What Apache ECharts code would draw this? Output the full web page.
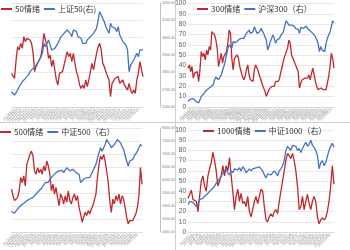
<!DOCTYPE html>
<html><head><meta charset="utf-8">
<script src="https://cdn.jsdelivr.net/npm/echarts@6/dist/echarts.min.js"></script>
<style>html,body{margin:0;padding:0;background:#fff}#c{width:350px;height:250px}</style>
</head><body><div id="c"></div>
<script>
// ---- data ----
const sent50 = [32.4,34,27.6,45.2,58,54.8,61.2,56.4,67.6,62.8,66,67.6,64.4,61.2,51.6,34,40.4,38.8,45.2,48.4,58,70.8,64.4,58,46.8,50,38.8,45.2,35.6,26,21.2,32.4,30.8,34,35.6,46.8,53.2,48.4,51.6,43.6,51.6,42,34,29.2,21.2,17.9,21.2,17.9,26,19.6,26,34,42,35.6,43.6,51.6,58,61.2,54.8,42,38.8,34,35.6,26,9.9,22.8,21.2,27.6,26,29.2,22.8,24.4,26,21.2,19.6,16.3,22.8,16.3,13.1,16.3,13.1,26,32.4,43.6,35.6,29.2];
const index50 = [2688,2679,2669,2669,2698,2717,2727,2746,2756,2765,2775,2785,2804,2794,2823,2813,2833,2842,2871,2881,2910,2967,2948,2967,2987,2977,2929,2919,2938,2948,2967,2987,3006,2996,3025,3015,3044,3035,3025,3006,3044,3054,3035,3006,3015,2996,2967,2977,2967,2987,2977,3006,3015,3025,3035,3054,3044,3150,3131,3121,3092,3063,3044,3025,3083,3063,3073,3054,3035,3063,3015,3006,2977,2967,2958,2929,2804,2842,2833,2871,2881,2910,2890,2929,2938,2929];
const sent300 = [37.5,40.7,34.3,39.1,27.9,32.7,31.1,34.3,24.7,35.9,53.5,48.7,51.9,45.5,55.1,50.3,58.3,55.1,72.8,71.2,69.6,64.7,56.7,39.1,45.5,51.9,42.3,48.7,50.3,53.5,61.5,74.4,71.2,47.1,35.9,47.1,45.5,50.3,47.1,39.1,34.3,29.5,26.3,29.5,35.9,40.7,31.1,26.3,26.3,24.7,35.9,40.7,39.1,34.3,29.5,26.3,21.5,19.9,15.1,10.3,11.9,16.7,18.3,19.9,21.5,19.9,24.7,23.1,24.7,27.9,34.3,39.1,45.5,47.1,53.5,56.7,64.7,61.5,50.3,48.7,43.9,40.7,37.5,34.3,18.3,23.1,26.3,24.7,27.9,29.5,27.9,31.1,26.3,27.9,37.5,35.9,24.7,19.9,16.7,15.1,18.3,16.7,16.7,18.3,16.7,23.1,29.5,39.1,51.9,47.1,37.5];
const index300 = [3109,3141,3154,3141,3160,3128,3109,3090,3077,3141,3205,3237,3256,3301,3333,3346,3365,3385,3410,3429,3526,3577,3577,3526,3558,3622,3705,3782,3878,4006,4135,4199,4167,4135,4263,4231,4244,4263,4295,4282,4327,4359,4327,4359,4423,4455,4487,4423,4391,4455,4551,4487,4423,4391,4455,4519,4487,4423,4359,4295,4103,4167,4263,4295,4391,4327,4231,4295,4263,4327,4391,4423,4455,4583,4667,4628,4583,4615,4583,4603,4564,4519,4538,4500,4423,4538,4551,4519,4551,4564,4519,4551,4474,4500,4423,4391,4359,4295,4231,4071,4167,4103,4115,4071,4231,4327,4391,4455,4551,4667,4628];
const sent500 = [41.3,34.9,30.2,28.6,33.3,39.7,52.4,47.6,54.0,44.4,65.1,63.5,74.6,77.8,73.0,58.7,55.6,61.9,57.1,60.3,55.6,63.5,58.7,68.3,63.5,55.6,39.7,46.0,36.5,42.9,33.3,25.4,36.5,33.3,27.0,34.9,28.6,39.7,30.2,27.0,33.3,36.5,30.2,34.9,23.8,17.5,9.5,11.1,19.0,15.9,20.6,17.5,22.2,25.4,27.0,36.5,52.4,65.1,73.0,69.8,74.6,68.3,58.7,47.6,30.2,19.0,31.7,27.0,34.9,30.2,36.5,27.0,34.9,31.7,23.8,14.3,7.9,11.1,12.7,11.1,14.3,17.5,23.8,34.9,61.9,46.0];
const index500 = [4800,4762,4724,4762,4889,4927,5016,5080,5105,5143,5207,5232,5270,5270,5334,5397,5461,5486,5588,5651,5715,5778,5905,5969,5905,6032,6096,6159,6223,6286,6248,6350,6286,6375,6286,6350,6477,6413,6350,6324,6413,6350,6286,6248,6223,5905,5969,6032,6070,6096,6159,6096,6223,6350,6477,6604,6667,7048,7239,7112,7175,7366,7556,7556,7366,7239,7302,7366,7429,7556,7620,7429,7302,7175,7112,6731,6540,6731,6667,6794,6921,6985,7112,7239,7366,7302];
const sent1000 = [33,34,41,32,33,30,20,35,50,55,45,40,55,62,68,78,70,60,45,50,55,65,55,65,60,73,55,40,22,35,42,30,38,28,30,25,35,20,15,22,30,35,28,35,42,40,25,12,10,15,18,15,20,22,18,30,40,50,60,70,77,75,72,77,70,60,45,22,25,35,22,30,37,28,22,30,35,30,15,8,12,14,12,14,20,30,45,65,47];
const index1000 = [5080,5200,5240,5160,5120,5000,5080,5280,5240,5320,5400,5440,5520,5600,5640,5720,5800,5920,6000,6080,6200,6320,6400,6480,6320,6240,6400,6320,6480,6520,6440,6520,6400,6560,6480,6320,6400,6480,6400,6480,6520,6520,6480,6560,6480,6400,6240,6120,6280,6320,6240,6320,6400,6320,6200,6400,6480,6600,6800,7200,7360,7280,7200,7400,7440,7360,7200,7280,7120,7280,7400,7520,7360,7440,7600,7400,7320,7200,7000,6480,6720,6800,6600,6720,6960,7200,7360,7480,7320];

function dateLabels(n, y, m, d, step){
  const out=[]; let t=Date.UTC(y,m-1,d);
  for(let i=0;i<n;i++){const dt=new Date(t);out.push(dt.getUTCFullYear()+'/'+(dt.getUTCMonth()+1)+'/'+dt.getUTCDate());t+=step*86400000;}
  return out;
}
const dates50 = dateLabels(sent50.length, 2023, 9, 1, 7);
const dates300 = dateLabels(sent300.length, 2023, 3, 3, 5);
const dates500 = dateLabels(sent500.length, 2023, 9, 1, 7);
const dates1000 = dateLabels(sent1000.length, 2023, 6, 2, 6);

const RED = '#C0282D', BLUE = '#4472C4';
const FONT = '"Noto Sans CJK SC", "Noto Sans", sans-serif';

function xAx(grid, data){
  return {type:'category', gridIndex:grid, data:data, boundaryGap:false,
    axisLine:{lineStyle:{color:'#d9d9d9', width:1}}, axisTick:{show:false},
    axisLabel:{interval:1, rotate:45, fontSize:3.5, color:'#9a9a9a', margin:2, fontFamily:'Liberation Sans'},
    splitLine:{show:false}};
}
function hiddenY(grid, min, max, pos){
  return {type:'value', gridIndex:grid, min:min, max:max, position:pos, show:false, splitLine:{show:false}};
}
function rightY(grid, min, max, interval, offset){
  return {type:'value', gridIndex:grid, min:min, max:max, interval:interval, position:'right', offset:offset,
    axisLine:{show:true, lineStyle:{color:'#bfbfbf', width:1}}, axisTick:{show:false},
    axisLabel:{fontSize:3.5, color:'#7f7f7f', margin:2, formatter:v=>v.toFixed(2), fontFamily:'Liberation Sans'},
    splitLine:{show:true, lineStyle:{color:'#e8e8e8', width:1}}};
}
function leftY(grid){
  return {type:'value', gridIndex:grid, min:0, max:100, interval:10, position:'left',
    axisLine:{show:false}, axisTick:{show:false},
    axisLabel:{fontSize:6.5, color:'#595959', margin:2, fontFamily:'Liberation Sans'},
    splitLine:{show:true, lineStyle:{color:'#e8e8e8', width:1}}};
}
function line(name, data, x, y, color){
  return {type:'line', name:name, data:data, xAxisIndex:x, yAxisIndex:y, showSymbol:false,
    lineStyle:{color:color, width:1.3}, itemStyle:{color:color}};
}
function leg(names, left, top){
  return {data:names, left:left, top:top, icon:'rect', itemWidth:11, itemHeight:2, itemGap:4,
    textStyle:{fontSize:8, color:'#333', fontFamily:FONT, padding:[0,0,0,-2]}, padding:0};
}

const chart = echarts.init(document.getElementById('c'), null, {renderer:'canvas'});
chart.setOption({
  animation:false,
  backgroundColor:'#fff',
  grid:[
    {left:0, top:3, width:143, height:104},
    {left:188, top:3, width:146, height:104},
    {left:0, top:128, width:142, height:105},
    {left:188, top:130, width:146, height:103}
  ],
  xAxis:[xAx(0,dates50), xAx(1,dates300), xAx(2,dates500), xAx(3,dates1000)],
  yAxis:[
    hiddenY(0,0,100,'left'), rightY(0,2600,3200,100,17),
    leftY(1), hiddenY(1,3000,5000,'right'),
    hiddenY(2,0,100,'left'), rightY(2,4000,8000,500,18),
    leftY(3), hiddenY(3,4000,8000,'right')
  ],
  legend:[
    leg(['50情绪','上证50(右)'], 1, 5),
    leg(['300情绪','沪深300（右）'], 197, 5),
    leg(['500情绪','中证500（右）'], 0, 128),
    leg(['1000情绪','中证1000（右）'], 203, 127)
  ],
  series:[
    line('50情绪', sent50, 0, 0, RED),
    line('上证50(右)', index50, 0, 1, BLUE),
    line('300情绪', sent300, 1, 2, RED),
    line('沪深300（右）', index300, 1, 3, BLUE),
    line('500情绪', sent500, 2, 4, RED),
    line('中证500（右）', index500, 2, 5, BLUE),
    line('1000情绪', sent1000, 3, 6, RED),
    line('中证1000（右）', index1000, 3, 7, BLUE)
  ],
  graphic:[
    {type:'line', shape:{x1:175.5,y1:0,x2:175.5,y2:250}, style:{stroke:'#d0d0d0', lineWidth:1}, silent:true},
    {type:'line', shape:{x1:0,y1:122.5,x2:350,y2:122.5}, style:{stroke:'#d0d0d0', lineWidth:1}, silent:true}
  ]
});
</script></body></html>
